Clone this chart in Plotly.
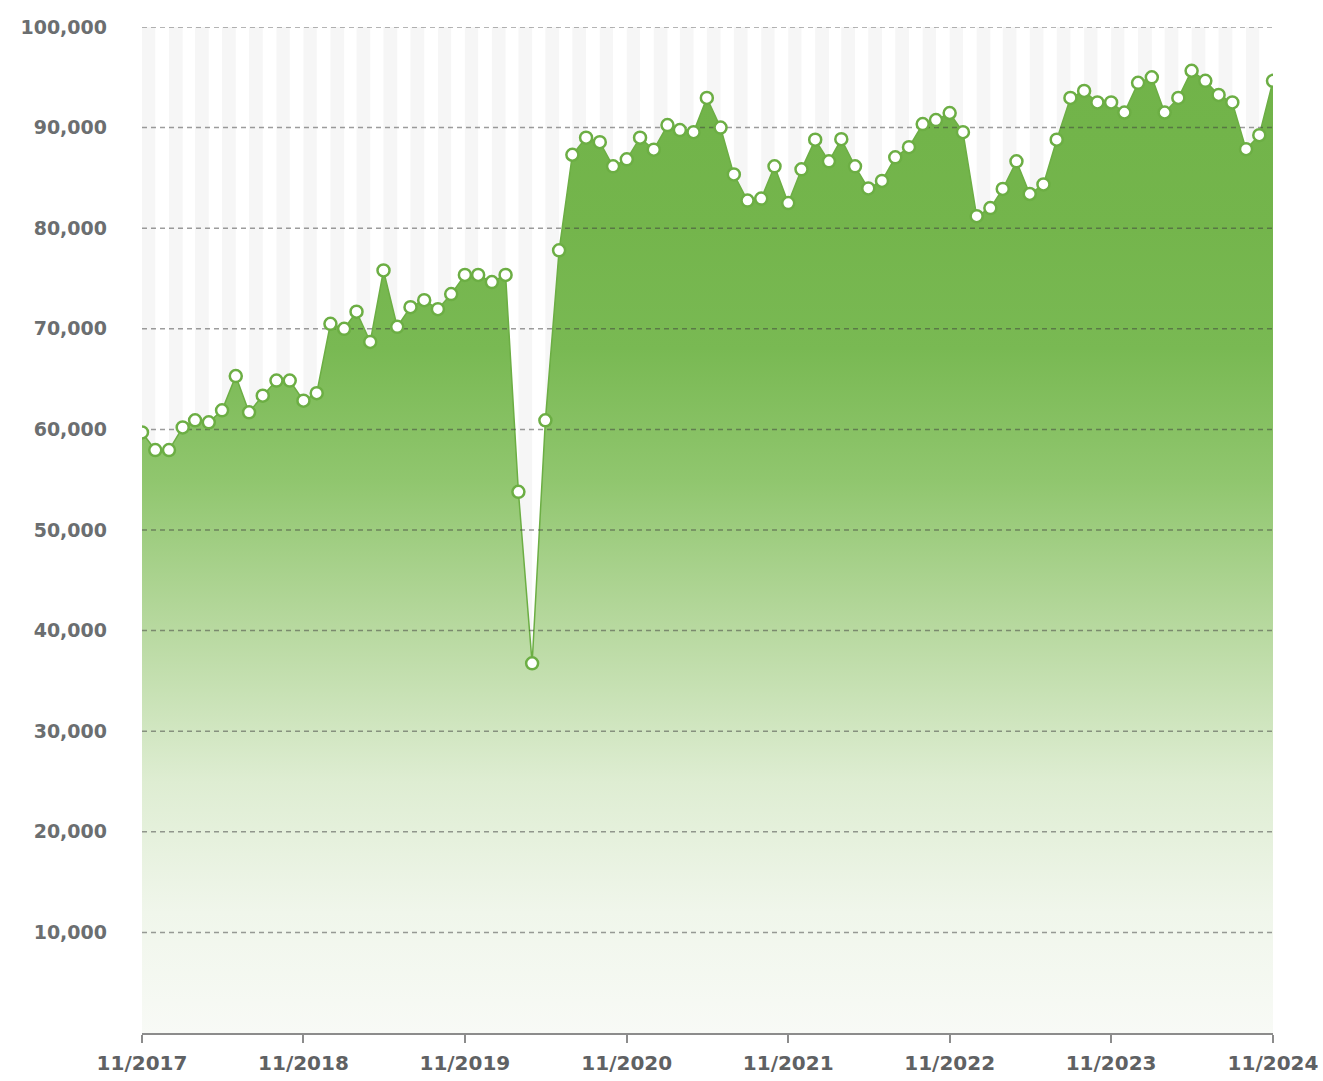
import pandas as pd
import plotly.graph_objects as go

# Monthly series, 11/2017 .. 11/2024
months = pd.date_range("2017-11-01", "2024-11-01", freq="MS")
values = [
    59700, 57950, 57950, 60200, 60900, 60700, 61900, 65300, 61700, 63350, 64850, 64850,
    62850, 63600, 70500, 70000, 71700, 68700, 75800, 70200, 72150, 72850, 71950, 73450,
    75350, 75350, 74650, 75350, 53800, 36750, 60900, 77800, 87300, 89000, 88550, 86150,
    86850, 89000, 87800, 90250, 89750, 89550, 92950, 90000, 85350, 82750, 82950, 86150,
    82500, 85850, 88800, 86650, 88850, 86150, 83950, 84700, 87050, 88050, 90350, 90750,
    91450, 89550, 81200, 82000, 83900, 86650, 83400, 84350, 88800, 92950, 93650, 92500,
    92500, 91500, 94450, 95000, 91500, 92950, 95650, 94650, 93250, 92500, 87850, 89250,
    94650,
]
y_ticks = [10000, 20000, 30000, 40000, 50000, 60000, 70000, 80000, 90000, 100000]
y_range = [0, 100000]

EDGE = "rgb(108,174,68)"
FONT = "DejaVu Sans"

fig = go.Figure()

# shaded area with a vertical fade towards the baseline
fig.add_trace(go.Scatter(
    x=months, y=values, mode="lines",
    line=dict(color=EDGE, width=1.5),
    fill="tozeroy",
    fillgradient=dict(
        type="vertical", start=y_range[0], stop=y_range[1],
        colorscale=[
            [0.0, "rgb(248,250,246)"],
            [0.12, "rgb(240,246,235)"],
            [0.25, "rgb(222,237,210)"],
            [0.4, "rgb(184,217,160)"],
            [0.55, "rgb(144,198,110)"],
            [0.68, "rgb(121,185,83)"],
            [0.8, "rgb(116,181,76)"],
            [1.0, "rgb(112,179,72)"],
        ],
    ),
    hoverinfo="skip", showlegend=False,
))

# dashed horizontal grid drawn over the area
for v in y_ticks:
    fig.add_trace(go.Scatter(
        x=[months[0], months[-1]], y=[v, v], mode="lines",
        line=dict(color="rgba(60,60,60,0.5)", width=1.5, dash="5px,4px"),
        hoverinfo="skip", showlegend=False,
    ))

# point markers
fig.add_trace(go.Scatter(
    x=months, y=values, mode="markers",
    marker=dict(size=12, color="white", line=dict(color=EDGE, width=2.5)),
    showlegend=False,
))

# alternating month stripes in the background
shapes = []
for i in range(0, len(months) - 1, 2):
    shapes.append(dict(
        type="rect", xref="x", yref="paper",
        x0=months[i], x1=months[i + 1], y0=0, y1=1,
        fillcolor="#f6f6f6", line=dict(width=0), layer="below",
    ))

fig.update_layout(
    width=1323, height=1081,
    margin=dict(l=142, r=50, t=27, b=48),
    paper_bgcolor="white", plot_bgcolor="white",
    shapes=shapes,
    xaxis=dict(
        type="date", automargin=False,
        range=[months[0], months[-1]],
        tick0=months[0], dtick="M12", tickformat="%m/%Y",
        showgrid=False, zeroline=False,
        showline=True, linecolor="#8c8c8c", linewidth=1.5,
        ticks="outside", ticklen=8, tickwidth=1.5, tickcolor="#8c8c8c",
        ticklabelstandoff=3,
        tickfont=dict(family=FONT, size=20, color="#5f6163", weight="bold"),
    ),
    yaxis=dict(
        range=y_range, automargin=False,
        tickvals=y_ticks, tickformat=",d",
        showgrid=False, zeroline=False, showline=False, ticks="",
        ticklabelstandoff=34,
        tickfont=dict(family=FONT, size=19, color="#6b6e70", weight="bold"),
    ),
)

fig.write_html("out.html")
